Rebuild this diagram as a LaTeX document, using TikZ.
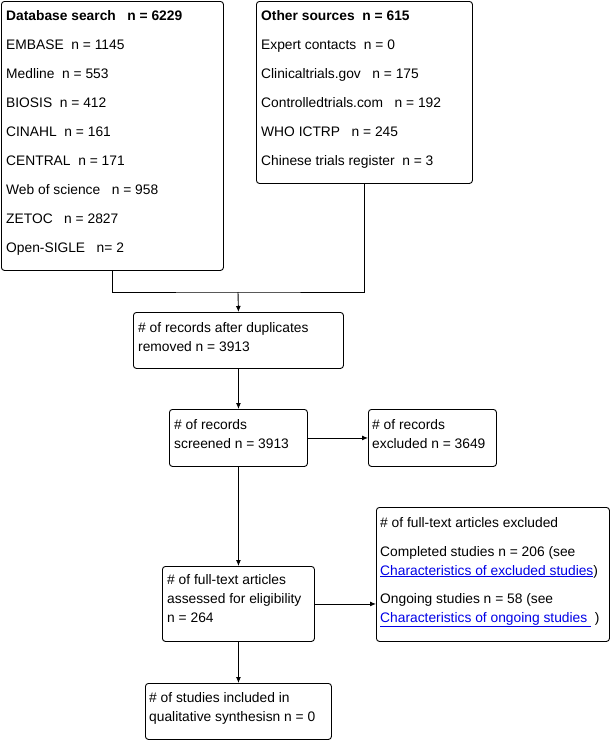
\documentclass[tikz,border=0pt]{standalone}
\usepackage{fontspec}
\setmainfont{Liberation Sans}
\usetikzlibrary{arrows.meta}
\definecolor{linkblue}{RGB}{0,0,230}
\tikzset{
  box/.style={draw, line width=0.9pt, rounded corners=3pt, inner sep=0pt, anchor=north west},
  txt/.style={anchor=base west, inner sep=0pt, font=\fontsize{13.8}{16}\selectfont},
  conn/.style={line width=0.9pt},
  arr/.style={conn, -{Latex[length=6pt,width=5pt]}}
}
\newcommand{\lk}[1]{\textcolor{linkblue}{\underline{#1}}}
\begin{document}
\begin{tikzpicture}[x=1pt,y=-1pt]
\useasboundingbox (0,0) rectangle (611,740);
% boxes
\node[box, minimum width=222pt, minimum height=269pt] (b1) at (1,1) {};
\node[box, minimum width=216pt, minimum height=182pt] (b2) at (256,1) {};
\node[box, minimum width=210pt, minimum height=56pt] (b3) at (133,312) {};
\node[box, minimum width=138pt, minimum height=57pt] (b4) at (169,409) {};
\node[box, minimum width=128pt, minimum height=57pt] (b5) at (368,409) {};
\node[box, minimum width=152pt, minimum height=75pt] (b6) at (162,566) {};
\node[box, minimum width=233pt, minimum height=134pt] (b7) at (376,507) {};
\node[box, minimum width=186pt, minimum height=56pt] (b8) at (145,683) {};
% texts box1
\node[txt] (t11) at (6,20) {\textbf{Database search\ \ \ n = 6229}};
\node[txt] (t12) at (6,49) {EMBASE\ \ n = 1145};
\node[txt] (t13) at (6,78) {Medline\ \ n = 553};
\node[txt] (t14) at (6,107) {BIOSIS\ \ n = 412};
\node[txt] (t15) at (6,136) {CINAHL\ \ n = 161};
\node[txt] (t16) at (6,165) {CENTRAL\ \ n = 171};
\node[txt] (t17) at (6,194) {Web of science\ \ \ n = 958};
\node[txt] (t18) at (6,223) {ZETOC\ \ \ n = 2827};
\node[txt] (t19) at (6,252) {Open-SIGLE\ \ \ n= 2};
% texts box2
\node[txt] (t21) at (261,20) {\textbf{Other sources\ \ n = 615}};
\node[txt] (t22) at (261,49) {Expert contacts\ \ n = 0};
\node[txt] (t23) at (261,78) {Clinicaltrials.gov\ \ \ n = 175};
\node[txt] (t24) at (261,107) {Controlledtrials.com\ \ \ n = 192};
\node[txt] (t25) at (261,136) {WHO ICTRP\ \ \ n = 245};
\node[txt] (t26) at (261,165) {Chinese trials register\ \ n = 3};
% box3
\node[txt] (t31) at (138,332) {\# of records after duplicates};
\node[txt] (t32) at (138,351) {removed n = 3913};
% box4
\node[txt] (t41) at (174,429) {\# of records};
\node[txt] (t42) at (174,448) {screened n = 3913};
% box5
\node[txt] (t51) at (372,429) {\# of records};
\node[txt] (t52) at (372,448) {excluded n = 3649};
% box6
\node[txt] (t61) at (167,584) {\# of full-text articles};
\node[txt] (t62) at (167,603) {assessed for eligibility};
\node[txt] (t63) at (167,622) {n = 264};
% box7
\node[txt] (t71) at (380,527) {\# of full-text articles excluded};
\node[txt] (t72) at (380,556) {Completed studies n = 206 (see};
\node[txt] (t73) at (380,575) {\lk{Characteristics of excluded studies})};
\node[txt] (t74) at (380,603) {Ongoing studies n = 58 (see};
\node[txt] (t75) at (380,622) {\lk{Characteristics of ongoing studies }\ )};
% box8
\node[txt] (t81) at (149,702) {\# of studies included in};
\node[txt] (t82) at (149,721) {qualitative synthesisn n = 0};
% connectors
\coordinate (j) at (238,292);
\draw[conn] (b1.south) |- (j) -| (b2.south);
\draw[arr] (j) -- (b3.north);
\draw[arr] (b3.south) -- (b4.north);
\draw[arr] (b4.east) -- (b5.west);
\draw[arr] (b4.south) -- (b6.north);
\draw[arr] (b6.east) -- (b7.west |- b6.east);
\draw[arr] (b6.south) -- (b8.north);
\end{tikzpicture}
\end{document}
